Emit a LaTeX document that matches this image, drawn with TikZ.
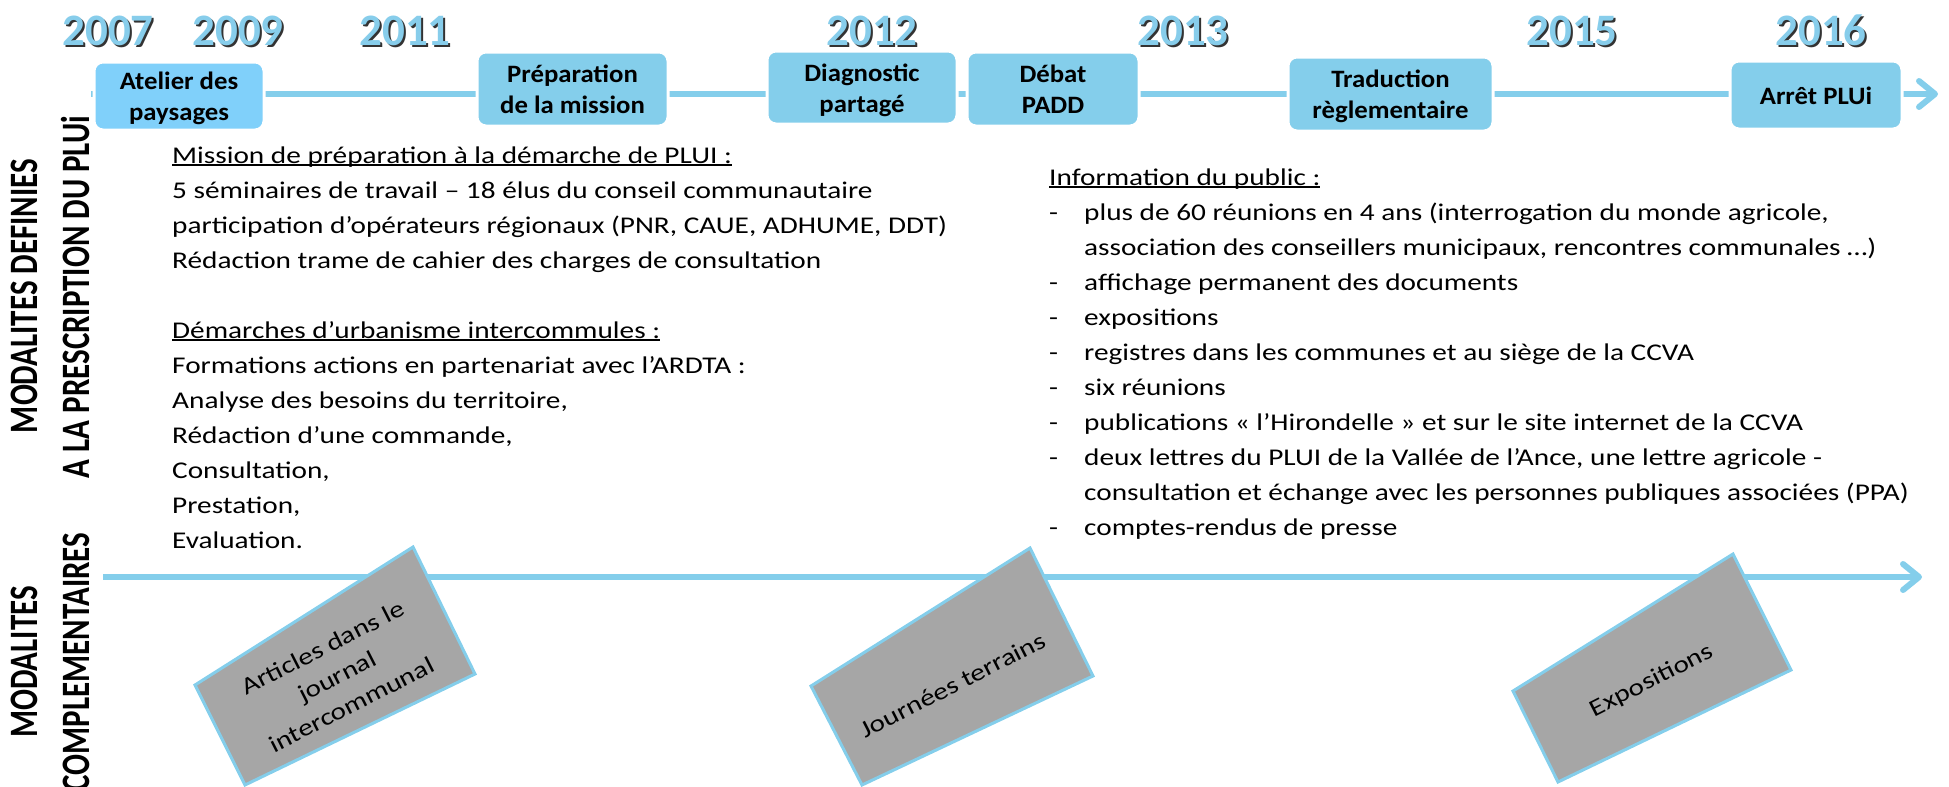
\documentclass[tikz,border=0pt]{standalone}
\usepackage{fontspec}
\setmainfont{Carlito}
\newfontfamily\bodyfont{Carlito}[FakeStretch=1.22]
\newfontfamily\boxfont{Carlito}[FakeStretch=1.07]
\usetikzlibrary{arrows.meta}
\definecolor{lineblue}{RGB}{132,206,235}
\definecolor{boxblue}{RGB}{132,206,235}
\definecolor{boxbright}{RGB}{128,208,250}
\definecolor{yearblue}{RGB}{135,205,235}
\definecolor{grayfill}{RGB}{166,166,166}
\newcommand\myul[1]{\setbox0\hbox{#1}\rlap{\rule[-2.5pt]{\wd0}{1.3pt}}\box0}
\newcommand\tl[1]{\rule{0pt}{18.5pt}#1}
\newcommand\bl[1]{\raisebox{0pt}[\height][0pt]{#1}}
\begin{document}
\begin{tikzpicture}[x=1pt,y=-1pt,
  timeline/.style={line width=6pt, draw=lineblue, -{Straight Barb[length=16pt,width=26pt,round]}},
  evbox/.style={rounded corners=9pt, fill=boxblue, draw=white, line width=3pt, align=center, inner sep=0pt,
    font={\boxfont\bfseries\fontsize{25}{31}\selectfont}},
  yeartxt/.style={anchor=base, inner sep=0pt, text=yearblue, font={\bfseries\fontsize{45}{45}\selectfont}},
  yearshadow/.style={yeartxt, text=black!80},
  vlabel/.style={rotate=90, anchor=base, inner sep=0pt, font={\bfseries\fontsize{31}{31}\selectfont}},
  bodytxt/.style={anchor=base west, inner sep=0pt, font={\bodyfont\fontsize{24}{35}\selectfont}},
  graybox/.style={fill=grayfill, draw=lineblue, line width=3pt},
  graytxt/.style={rotate=27, align=center, inner sep=0pt, font={\bodyfont\fontsize{24}{32}\selectfont}}
]
\useasboundingbox (0,0) rectangle (1949,787);

% top timeline
\coordinate (tlstart) at (91,94);
\coordinate (tlend) at (1938,94);
\draw[timeline] (tlstart) -- (tlend);

% event boxes
\node[evbox, fill=boxbright, minimum width=170pt, minimum height=68pt] (atelier) at (179,96) {\tl{Atelier des}\\\bl{paysages}};
\node[evbox, minimum width=191pt, minimum height=74pt] (prep) at (572.5,89) {\tl{Préparation}\\\bl{de la mission}};
\node[evbox, minimum width=190pt, minimum height=73pt] (diag) at (862,87.5) {\tl{Diagnostic}\\\bl{partagé}};
\node[evbox, minimum width=172pt, minimum height=74pt] (debat) at (1053,89) {\tl{Débat}\\\bl{PADD}};
\node[evbox, minimum width=205pt, minimum height=74pt] (trad) at (1390.5,94) {\tl{Traduction}\\\bl{règlementaire}};
\node[evbox, minimum width=172pt, minimum height=68pt] (arret) at (1816,95) {\tl{\bl{Arrêt PLUi}}};

% years
\node[yearshadow] (y2007s) at (110,47.5) {2007};
\node[yeartxt] (y2007) at (108,45.5) {2007};
\node[yearshadow] (y2009s) at (240,47.5) {2009};
\node[yeartxt] (y2009) at (238,45.5) {2009};
\node[yearshadow] (y2011s) at (407,47.5) {2011};
\node[yeartxt] (y2011) at (405,45.5) {2011};
\node[yearshadow] (y2012s) at (874,47.5) {2012};
\node[yeartxt] (y2012) at (872,45.5) {2012};
\node[yearshadow] (y2013s) at (1185,47.5) {2013};
\node[yeartxt] (y2013) at (1183,45.5) {2013};
\node[yearshadow] (y2015s) at (1574,47.5) {2015};
\node[yeartxt] (y2015) at (1572,45.5) {2015};
\node[yearshadow] (y2016s) at (1823,47.5) {2016};
\node[yeartxt] (y2016) at (1821,45.5) {2016};

% vertical labels
\node[vlabel] (vla) at (37,296) {\scalebox{1}[1.3]{MODALITES DEFINIES}};
\node[vlabel] (vlb) at (89,297) {\scalebox{1}[1.3]{A LA PRESCRIPTION DU PLUi}};
\node[vlabel] (vlc) at (37,662) {\scalebox{1}[1.3]{MODALITES}};
\node[vlabel] (vld) at (89,662) {\scalebox{1}[1.3]{COMPLEMENTAIRES}};

% left text block
\node[bodytxt] (leftblock) at (172,163) {\vtop{\baselineskip=35pt
\hbox{\myul{Mission de préparation à la démarche de PLUI :}}
\hbox{5 séminaires de travail – 18 élus du conseil communautaire}
\hbox{participation d’opérateurs régionaux (PNR, CAUE, ADHUME, DDT)}
\hbox{Rédaction trame de cahier des charges de consultation}
\hbox{}
\hbox{\myul{Démarches d’urbanisme intercommules :}}
\hbox{Formations actions en partenariat avec l’ARDTA :}
\hbox{Analyse des besoins du territoire,}
\hbox{Rédaction d’une commande,}
\hbox{Consultation,}
\hbox{Prestation,}
\hbox{Evaluation.}}};

% right text block
\node[bodytxt] (rightblock) at (1049,185) {\vtop{\baselineskip=35pt
\hbox{\myul{Information du public :}}
\hbox{\makebox[35pt][l]{-}plus de 60 réunions en 4 ans (interrogation du monde agricole,}
\hbox{\hspace*{35pt}association des conseillers municipaux, rencontres communales …)}
\hbox{\makebox[35pt][l]{-}affichage permanent des documents}
\hbox{\makebox[35pt][l]{-}expositions}
\hbox{\makebox[35pt][l]{-}registres dans les communes et au siège de la CCVA}
\hbox{\makebox[35pt][l]{-}six réunions}
\hbox{\makebox[35pt][l]{-}publications « l’Hirondelle » et sur le site internet de la CCVA}
\hbox{\makebox[35pt][l]{-}deux lettres du PLUI de la Vallée de l’Ance, une lettre agricole -}
\hbox{\hspace*{35pt}consultation et échange avec les personnes publiques associées (PPA)}
\hbox{\makebox[35pt][l]{-}comptes-rendus de presse}}};

% bottom timeline
\coordinate (blstart) at (103,577);
\coordinate (blend) at (1922,577);
\draw[timeline] (blstart) -- (blend);

% grey cards
\draw[graybox] (413,547) -- (475,674) -- (245,785) -- (195,685) -- cycle;
\draw[graybox] (1030,548) -- (1093,676) -- (862,785) -- (811,686) -- cycle;
\draw[graybox] (1733,554) -- (1791,670) -- (1558,782) -- (1513,691) -- cycle;
\node[graytxt] (articles) at (337,676) {Articles dans le\\journal\\intercommunal};
\node[graytxt] (journees) at (953,685) {Journées terrains};
\node[graytxt] (expo) at (1652,681) {Expositions};
\end{tikzpicture}
\end{document}
